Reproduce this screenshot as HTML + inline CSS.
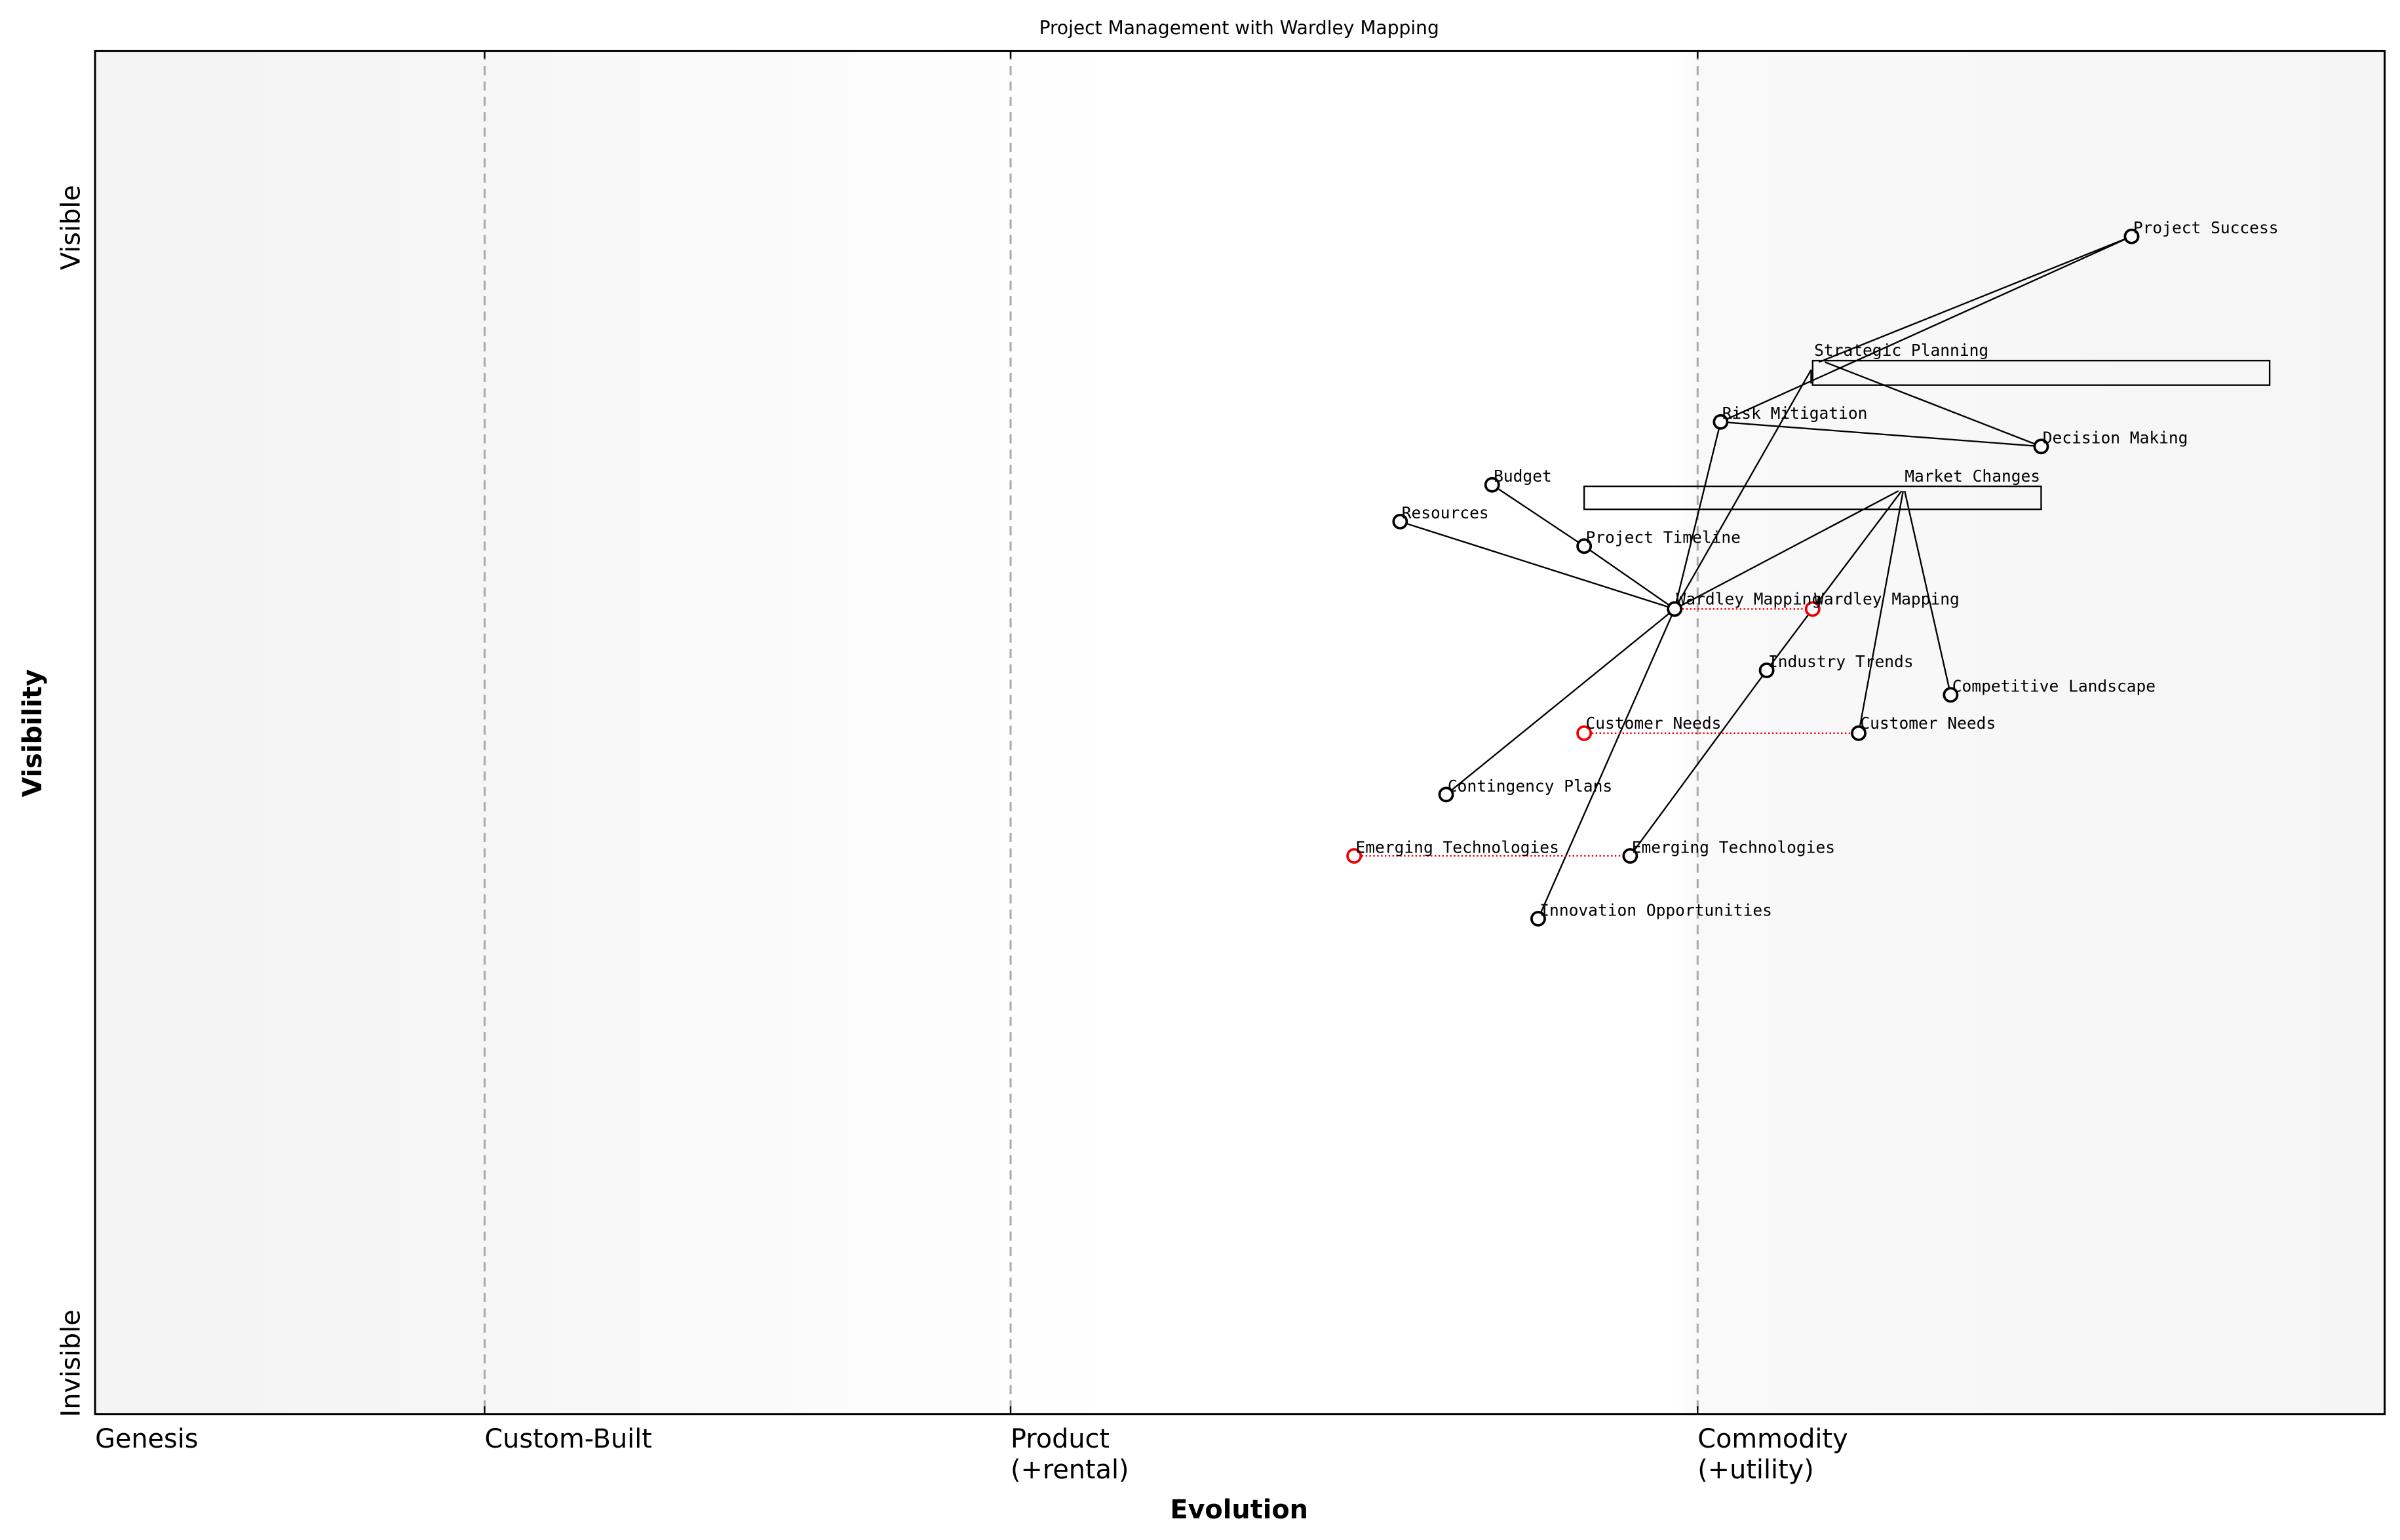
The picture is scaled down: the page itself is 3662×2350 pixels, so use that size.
<!DOCTYPE html>
<html><head><style>html,body{margin:0;padding:0;background:#fff}svg{display:block}</style></head>
<body>
<svg width="3662" height="2350" viewBox="0 0 1565 1004" xmlns="http://www.w3.org/2000/svg">
<defs>
<linearGradient id="bg" x1="0" x2="1" y1="0" y2="0">
<stop offset="0" stop-color="#f4f4f4"/>
<stop offset="0.12" stop-color="#f5f5f5"/>
<stop offset="0.45" stop-color="#ffffff"/>
<stop offset="0.69" stop-color="#ffffff"/>
<stop offset="0.70" stop-color="#f9f9f9"/>
<stop offset="1" stop-color="#f5f5f5"/>
</linearGradient>
</defs>
<rect x="0" y="0" width="1565" height="1004" fill="#fff"/>
<rect x="62" y="33" width="1493" height="889" fill="url(#bg)"/>
<g stroke="#aaa" stroke-width="1.3" stroke-dasharray="6,4">
<line x1="316" y1="33" x2="316" y2="922"/>
<line x1="659" y1="33" x2="659" y2="922"/>
<line x1="1107" y1="33" x2="1107" y2="922"/>
</g>
<rect x="62" y="33" width="1493" height="889" fill="none" stroke="#000" stroke-width="1.3"/>
<g stroke="#000" stroke-width="1">
<line x1="316" y1="33" x2="316" y2="38"/><line x1="659" y1="33" x2="659" y2="38"/><line x1="1107" y1="33" x2="1107" y2="38"/>
<line x1="316" y1="922" x2="316" y2="917"/><line x1="659" y1="922" x2="659" y2="917"/><line x1="1107" y1="922" x2="1107" y2="917"/>
</g>
<g font-family="DejaVu Sans, sans-serif" fill="#000">
<text x="808" y="22" font-size="12" text-anchor="middle">Project Management with Wardley Mapping</text>
<text x="62" y="944" font-size="17">Genesis</text>
<text x="316" y="944" font-size="17">Custom-Built</text>
<text x="659" y="944" font-size="17">Product</text><text x="659" y="964" font-size="17">(+rental)</text>
<text x="1107" y="944" font-size="17">Commodity</text><text x="1107" y="964" font-size="17">(+utility)</text>
<text x="808" y="990" font-size="17" font-weight="bold" text-anchor="middle">Evolution</text>
<text transform="translate(27,478) rotate(-90)" font-size="17" font-weight="bold" text-anchor="middle">Visibility</text>
<text transform="translate(52,176) rotate(-90)" font-size="17">Visible</text>
<text transform="translate(52,924) rotate(-90)" font-size="17">Invisible</text>
</g>
<g fill="none" stroke="#000" stroke-width="1">
<rect x="1182" y="235" width="298" height="16"/>
<rect x="1033" y="317" width="298" height="15"/>
<line x1="1390" y1="154" x2="1186" y2="236"/>
<line x1="1390" y1="154" x2="1122" y2="275"/>
<line x1="1190" y1="236" x2="1331" y2="291"/>
<line x1="1181" y1="241" x2="1092" y2="397"/>
<line x1="1122" y1="275" x2="1331" y2="291"/>
<line x1="1122" y1="275" x2="1092" y2="397"/>
<line x1="973" y1="316" x2="1033" y2="356"/>
<line x1="1033" y1="356" x2="1092" y2="397"/>
<line x1="913" y1="340" x2="1092" y2="397"/>
<line x1="1238" y1="320" x2="1092" y2="397"/>
<line x1="1240" y1="320" x2="1182" y2="397"/>
<line x1="1182" y1="397" x2="1152" y2="437"/>
<line x1="1152" y1="437" x2="1063" y2="558"/>
<line x1="1241" y1="320" x2="1212" y2="478"/>
<line x1="1242" y1="320" x2="1272" y2="453"/>
<line x1="1092" y1="397" x2="943" y2="518"/>
<line x1="1092" y1="397" x2="1003" y2="599"/>
<line x1="1181" y1="241" x2="1181" y2="250"/>
</g>
<g stroke="#e00" stroke-width="1" stroke-dasharray="1,1.5" fill="none">
<line x1="1092" y1="397" x2="1182" y2="397"/>
<line x1="1033" y1="478" x2="1212" y2="478"/>
<line x1="883" y1="558" x2="1063" y2="558"/>
</g>
<g fill="#fff" stroke="#000" stroke-width="1.6">
<circle cx="1390" cy="154" r="4.3"/><circle cx="1122" cy="275" r="4.3"/><circle cx="1331" cy="291" r="4.3"/>
<circle cx="973" cy="316" r="4.3"/><circle cx="913" cy="340" r="4.3"/><circle cx="1033" cy="356" r="4.3"/>
<circle cx="1092" cy="397" r="4.3"/><circle cx="1152" cy="437" r="4.3"/><circle cx="1272" cy="453" r="4.3"/>
<circle cx="1212" cy="478" r="4.3"/><circle cx="943" cy="518" r="4.3"/><circle cx="1063" cy="558" r="4.3"/>
<circle cx="1003" cy="599" r="4.3"/>
</g>
<g fill="#fff" stroke="#e00" stroke-width="1.6">
<circle cx="1182" cy="397" r="4.3"/><circle cx="1033" cy="478" r="4.3"/><circle cx="883" cy="558" r="4.3"/>
</g>
<g font-family="DejaVu Sans Mono, Liberation Mono, monospace" font-size="10.5" fill="#000">
<text x="1391" y="152">Project Success</text>
<text x="1183" y="232">Strategic Planning</text>
<text x="1123" y="273">Risk Mitigation</text>
<text x="1332" y="289">Decision Making</text>
<text x="974" y="314">Budget</text>
<text x="1242" y="314">Market Changes</text>
<text x="914" y="338">Resources</text>
<text x="1034" y="354">Project Timeline</text>
<text x="1093" y="394">Wardley Mapping</text>
<text x="1183" y="394">Wardley Mapping</text>
<text x="1153" y="435">Industry Trends</text>
<text x="1273" y="451">Competitive Landscape</text>
<text x="1034" y="475">Customer Needs</text>
<text x="1213" y="475">Customer Needs</text>
<text x="944" y="516">Contingency Plans</text>
<text x="884" y="556">Emerging Technologies</text>
<text x="1064" y="556">Emerging Technologies</text>
<text x="1004" y="597">Innovation Opportunities</text>
</g>
</svg>
</body></html>
